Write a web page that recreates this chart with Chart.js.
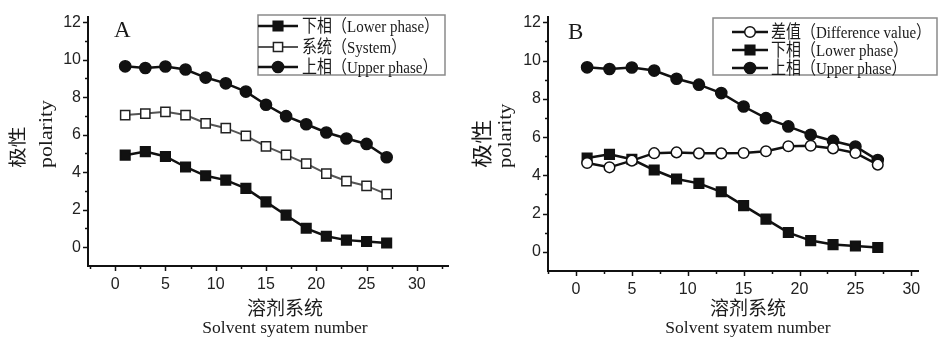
<!DOCTYPE html>
<html>
<head>
<meta charset="utf-8">
<script src="https://cdn.jsdelivr.net/npm/chart.js@4.4.1/dist/chart.umd.min.js"></script>
<style>
    body { margin: 0; background: #fff; width: 938px; height: 338px; overflow: hidden; position: relative;
           font-family: 'Liberation Serif', 'Noto Sans CJK SC', serif; color: #1a1a1a; }
    .panel { position: absolute; top: 0; height: 338px; }
    .lbl { position: absolute; white-space: nowrap; }
    .rot { position: absolute; white-space: nowrap; transform-origin: 0 0; transform: rotate(-90deg) scaleX(1.15); }
</style>
</head>
<body>
<div class="panel" style="left:0;width:470px"><canvas id="chartA" width="470" height="338"></canvas></div>
<div class="panel" style="left:470px;width:468px"><canvas id="chartB" width="468" height="338"></canvas></div>

<!-- panel letters -->
<div class="lbl" style="left:114px;top:17px;font-size:23px;line-height:26px">A</div>
<div class="lbl" style="left:568px;top:19px;font-size:23px;line-height:26px">B</div>

<!-- y titles -->
<div class="rot" style="left:7px;top:168px;font-size:18px;line-height:22px">极性</div>
<div class="rot" style="left:35px;top:168px;font-size:19px;line-height:21px">polarity</div>
<div class="rot" style="left:471px;top:168px;font-size:21px;line-height:22px">极性</div>
<div class="rot" style="left:495px;top:168px;font-size:18px;line-height:21px">polarity</div>

<!-- x titles -->
<div class="lbl" style="left:185px;width:200px;text-align:center;top:297px;font-size:19px;line-height:24px">溶剂系统</div>
<div class="lbl" style="left:185px;width:200px;text-align:center;top:316px;font-size:17.5px;line-height:22px">Solvent syatem number</div>
<div class="lbl" style="left:648px;width:200px;text-align:center;top:297px;font-size:19px;line-height:24px">溶剂系统</div>
<div class="lbl" style="left:648px;width:200px;text-align:center;top:316px;font-size:17.5px;line-height:22px">Solvent syatem number</div>

<script>
    // solvent system numbers (x) and polarity values
    const solventNo = [1, 3, 5, 7, 9, 11, 13, 15, 17, 19, 21, 23, 25, 27];
    const upperPhase = [9.65, 9.56, 9.64, 9.48, 9.05, 8.74, 8.30, 7.60, 6.99, 6.56, 6.12, 5.80, 5.51, 4.80];
    const systemVals = [7.05, 7.13, 7.22, 7.05, 6.61, 6.35, 5.94, 5.38, 4.93, 4.46, 3.93, 3.53, 3.27, 2.83];
    const lowerPhase = [4.91, 5.10, 4.84, 4.28, 3.81, 3.58, 3.14, 2.42, 1.71, 1.01, 0.59, 0.38, 0.31, 0.23];
    const diffVals = [4.65, 4.42, 4.77, 5.16, 5.20, 5.15, 5.15, 5.17, 5.26, 5.52, 5.55, 5.41, 5.17, 4.56];

    const xTicks = [0, 5, 10, 15, 20, 25, 30];
    const yTicks = [0, 2, 4, 6, 8, 10, 12];

    const labelLower = "下相（Lower phase）";
    const labelSystem = "系统（System）";
    const labelUpper = "上相（Upper phase）";
    const labelDiff = "差值（Difference value）";

    Chart.defaults.font.family = "'Liberation Sans', Arial, sans-serif";
    Chart.defaults.font.size = 16;
    Chart.defaults.color = '#222';

    const INK = '#111';

    function series(label, vals, style) {
        return Object.assign({
            label: label,
            data: solventNo.map((n, i) => ({ x: n, y: vals[i] })),
            borderColor: INK,
            borderWidth: 2.5,
            pointBorderColor: INK,
            pointBorderWidth: 1.5,
            pointBackgroundColor: INK,
            tension: 0,
            fill: false
        }, style);
    }

    const filledSquare = { pointStyle: 'rect', pointRadius: 6.8 };
    const openSquare = { pointStyle: 'rect', pointRadius: 6.5, pointBackgroundColor: '#fff', borderColor: '#555', borderWidth: 2, pointBorderColor: '#222' };
    const filledCircle = { pointStyle: 'circle', pointRadius: 5.6 };
    const openCircle = { pointStyle: 'circle', pointRadius: 5.3, pointBackgroundColor: '#fff' };

    // outward major / minor tick marks on both axes
    const axisTicks = {
        id: 'axisTicks',
        afterDraw(chart) {
            const ctx = chart.ctx, xs = chart.scales.x, ys = chart.scales.y, area = chart.chartArea;
            ctx.save();
            ctx.strokeStyle = INK;
            ctx.lineWidth = 1.5;
            const xStep = xTicks[1] - xTicks[0];
            for (let v = xTicks[0] - xStep; v <= xs.max + 1e-6; v += xStep / 2) {
                if (v < xs.min) continue;
                const major = Math.abs(v / xStep - Math.round(v / xStep)) < 1e-6;
                const px = Math.round(xs.getPixelForValue(v)) + 0.5;
                ctx.beginPath();
                ctx.moveTo(px, area.bottom);
                ctx.lineTo(px, area.bottom + (major ? 5 : 3));
                ctx.stroke();
            }
            const yStep = yTicks[1] - yTicks[0];
            for (let v = yTicks[0]; v <= ys.max + 1e-6; v += yStep / 2) {
                const major = Math.abs(v / yStep - Math.round(v / yStep)) < 1e-6;
                const py = Math.round(ys.getPixelForValue(v)) + 0.5;
                ctx.beginPath();
                ctx.moveTo(area.left, py);
                ctx.lineTo(area.left - (major ? 5 : 3), py);
                ctx.stroke();
            }
            ctx.restore();
        }
    };

    // boxed legend like the original figure
    const boxLegend = {
        id: 'boxLegend',
        afterDraw(chart, args, opts) {
            const ctx = chart.ctx;
            ctx.save();
            ctx.strokeStyle = '#8a8a8a';
            ctx.lineWidth = 1.5;
            ctx.strokeRect(opts.left, opts.top, opts.right - opts.left, opts.bottom - opts.top);
            chart.data.datasets.forEach((ds, i) => {
                const y = opts.rows[i];
                ctx.strokeStyle = ds.borderColor;
                ctx.lineWidth = ds.borderWidth;
                ctx.beginPath();
                ctx.moveTo(opts.lineX0, y);
                ctx.lineTo(opts.lineX1, y);
                ctx.stroke();
                const mx = (opts.lineX0 + opts.lineX1) / 2;
                ctx.fillStyle = ds.pointBackgroundColor;
                ctx.strokeStyle = ds.pointBorderColor;
                ctx.lineWidth = ds.pointBorderWidth;
                ctx.beginPath();
                if (ds.pointStyle === 'rect') {
                    const s = Math.SQRT1_2 * ds.pointRadius;
                    ctx.rect(mx - s, y - s, 2 * s, 2 * s);
                } else {
                    ctx.arc(mx, y, ds.pointRadius, 0, Math.PI * 2);
                }
                ctx.fill();
                ctx.stroke();
                // text is a bit taller than wide in the source scan
                ctx.save();
                ctx.translate(opts.textX, y + 1);
                ctx.scale(1, 1.18);
                ctx.fillStyle = '#1a1a1a';
                ctx.font = "15px 'Liberation Serif', 'Noto Sans CJK SC', serif";
                ctx.textBaseline = 'middle';
                ctx.fillText(ds.label, 0, 0);
                ctx.restore();
            });
            ctx.restore();
        }
    };

    function makePanel(id, datasets, p) {
        return new Chart(document.getElementById(id), {
            type: 'line',
            data: { datasets: datasets },
            plugins: [axisTicks, boxLegend],
            options: {
                responsive: false,
                animation: false,
                events: [],
                layout: { padding: { left: 0, top: p.top, right: p.right, bottom: 0 } },
                plugins: {
                    legend: { display: false },
                    tooltip: { enabled: false },
                    boxLegend: p.legend
                },
                scales: {
                    x: {
                        type: 'linear',
                        min: p.xMin, max: p.xMax,
                        afterBuildTicks: s => { s.ticks = xTicks.map(v => ({ value: v })); },
                        afterFit: s => { s.height = p.xHeight; },
                        grid: { display: false, drawTicks: false },
                        border: { display: true, color: INK, width: 2 },
                        ticks: { padding: 9, color: '#222', maxRotation: 0 }
                    },
                    y: {
                        type: 'linear',
                        min: -1, max: 12.3,
                        afterBuildTicks: s => { s.ticks = yTicks.map(v => ({ value: v })); },
                        afterFit: s => { s.width = p.yWidth; },
                        grid: { display: false, drawTicks: false },
                        border: { display: true, color: INK, width: 2 },
                        ticks: { padding: 7, color: '#222' }
                    }
                }
            }
        });
    }

    makePanel('chartA', [
        series(labelLower, lowerPhase, filledSquare),
        series(labelSystem, systemVals, openSquare),
        series(labelUpper, upperPhase, filledCircle)
    ], {
        top: 12, right: 22, xHeight: 72, yWidth: 88, xMin: -2.7, xMax: 33.1,
        legend: { left: 258, top: 15, right: 445, bottom: 75, rows: [26, 47, 67], lineX0: 258, lineX1: 298, textX: 302 }
    });

    makePanel('chartB', [
        series(labelDiff, diffVals, openCircle),
        series(labelLower, lowerPhase, filledSquare),
        series(labelUpper, upperPhase, filledCircle)
    ], {
        top: 15, right: 20, xHeight: 67, yWidth: 78, xMin: -2.5, xMax: 30.6,
        legend: { left: 243, top: 18, right: 467, bottom: 75, rows: [32, 50, 68], lineX0: 262, lineX1: 298, textX: 301 }
    });
</script>
</body>
</html>
